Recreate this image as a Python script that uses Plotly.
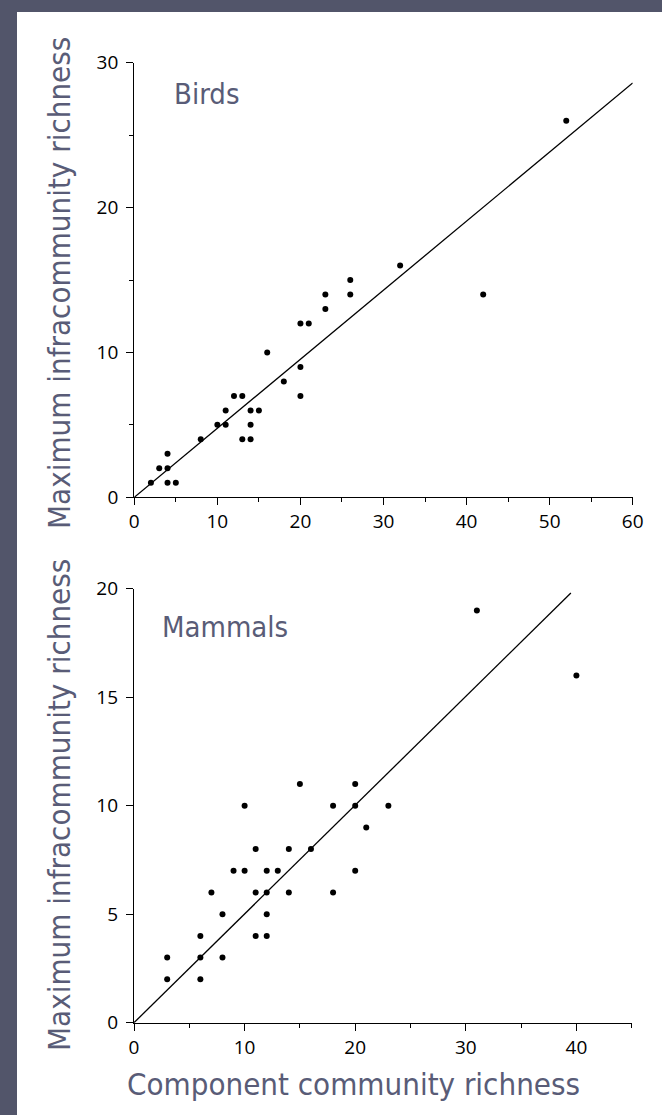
import plotly.graph_objects as go

# ---------------- data ----------------
bird_x = [2, 3, 4, 4, 4, 5, 8, 10, 11, 11, 12, 13, 13, 14, 14, 14, 15, 16, 18, 20, 20, 20, 21, 23, 23, 26, 26, 32, 42, 52]
bird_y = [1, 2, 2, 3, 1, 1, 4, 5, 5, 6, 7, 7, 4, 4, 5, 6, 6, 10, 8, 7, 9, 12, 12, 13, 14, 14, 15, 16, 14, 26]
bird_line_x = [0, 60]
bird_line_y = [0, 28.6]

mammal_x = [3, 3, 6, 6, 6, 7, 8, 8, 9, 10, 10, 11, 11, 11, 12, 12, 12, 12, 13, 14, 14, 15, 16, 18, 18, 20, 20, 20, 21, 23, 31, 40]
mammal_y = [2, 3, 2, 3, 4, 6, 3, 5, 7, 7, 10, 4, 6, 8, 4, 5, 6, 7, 7, 6, 8, 11, 8, 6, 10, 7, 10, 11, 9, 10, 19, 16]
mammal_line_x = [0, 39.5]
mammal_line_y = [0, 19.8]

bird_xticks = [0, 10, 20, 30, 40, 50, 60]
bird_yticks = [0, 10, 20, 30]
mammal_xticks = [0, 10, 20, 30, 40]
mammal_yticks = [0, 5, 10, 15, 20]

panel_titles = ["Birds", "Mammals"]
y_title = "Maximum infracommunity richness"
x_title = "Component community richness"

# ---------------- figure ----------------
W, H = 662, 1115
BG = "#52556a"
TXT = "#595c77"
TITLE_FONT = "DejaVu Sans Condensed, DejaVu Sans, sans-serif"
TICK_FONT = dict(family="Open Sans, Noto Sans, sans-serif", size=19, color="black")

fig = go.Figure()

fig.add_trace(go.Scatter(x=bird_line_x, y=bird_line_y, mode="lines",
                         line=dict(color="black", width=1.3), xaxis="x", yaxis="y",
                         showlegend=False, hoverinfo="skip"))
fig.add_trace(go.Scatter(x=bird_x, y=bird_y, mode="markers",
                         marker=dict(color="black", size=6), xaxis="x", yaxis="y",
                         showlegend=False, cliponaxis=False))
fig.add_trace(go.Scatter(x=mammal_line_x, y=mammal_line_y, mode="lines",
                         line=dict(color="black", width=1.3), xaxis="x2", yaxis="y2",
                         showlegend=False, hoverinfo="skip"))
fig.add_trace(go.Scatter(x=mammal_x, y=mammal_y, mode="markers",
                         marker=dict(color="black", size=6), xaxis="x2", yaxis="y2",
                         showlegend=False, cliponaxis=False))


def px_x(p):
    return p / W


def px_y(p):
    return 1 - p / H


common = dict(showline=True, linecolor="black", linewidth=1.3, ticks="outside",
              tickcolor="black", tickwidth=1.2, ticklen=7, showgrid=False,
              zeroline=False, tickfont=TICK_FONT, fixedrange=True)
minor_ticks = dict(dtick=5, tick0=0, ticks="outside", ticklen=4,
                   tickcolor="black", tickwidth=1.2)

fig.update_layout(
    width=W, height=H,
    margin=dict(l=0, r=0, t=0, b=0, pad=0, autoexpand=False),
    paper_bgcolor=BG,
    plot_bgcolor="rgba(0,0,0,0)",
    xaxis=dict(domain=[px_x(134.3), px_x(632.7)], range=[0, 60], anchor="y",
               tickvals=bird_xticks, minor=minor_ticks, **common),
    yaxis=dict(domain=[px_y(497.3), px_y(62.7)], range=[0, 30], anchor="x",
               tickvals=bird_yticks, minor=minor_ticks, ticklabelstandoff=4, **common),
    xaxis2=dict(domain=[px_x(134.0), px_x(631.7)], range=[0, 45], anchor="y2",
                tickvals=mammal_xticks, minor=minor_ticks, **common),
    yaxis2=dict(domain=[px_y(1022.7), px_y(588.7)], range=[0, 20], anchor="x2",
                tickvals=mammal_yticks, ticklabelstandoff=4, **common),
    shapes=[dict(type="rect", xref="paper", yref="paper", x0=px_x(17), x1=1.01,
                 y0=-0.01, y1=px_y(12), fillcolor="white", line=dict(width=0),
                 layer="below")],
    annotations=[
        dict(text=panel_titles[0], xref="paper", yref="paper", x=px_x(172), y=px_y(94),
             xanchor="left", yanchor="middle", showarrow=False,
             font=dict(family=TITLE_FONT, size=29, color=TXT)),
        dict(text=panel_titles[1], xref="paper", yref="paper", x=px_x(160), y=px_y(627),
             xanchor="left", yanchor="middle", showarrow=False,
             font=dict(family=TITLE_FONT, size=29, color=TXT)),
        dict(text=y_title, xref="paper", yref="paper", x=px_x(59), y=px_y(283),
             xanchor="center", yanchor="middle", showarrow=False, textangle=-90,
             font=dict(family=TITLE_FONT, size=31, color=TXT)),
        dict(text=y_title, xref="paper", yref="paper", x=px_x(59), y=px_y(805),
             xanchor="center", yanchor="middle", showarrow=False, textangle=-90,
             font=dict(family=TITLE_FONT, size=31, color=TXT)),
        dict(text=x_title, xref="paper", yref="paper", x=px_x(353.5), y=px_y(1084),
             xanchor="center", yanchor="middle", showarrow=False,
             font=dict(family=TITLE_FONT, size=31, color=TXT)),
    ],
)

fig.write_html("out.html")
